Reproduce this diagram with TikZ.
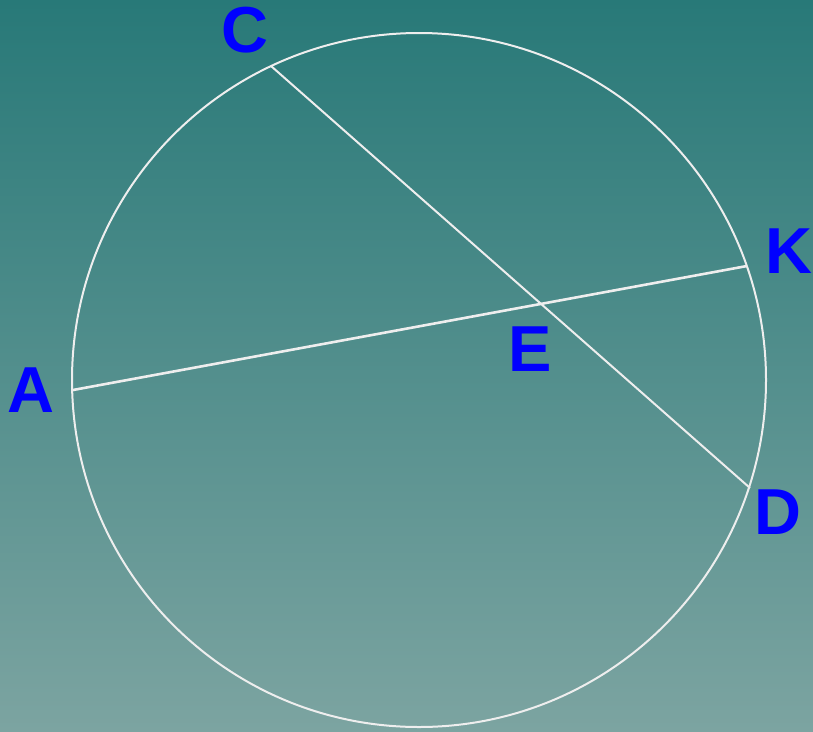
\documentclass[tikz,border=0pt]{standalone}
\usepackage{fontspec}
\setmainfont{Liberation Sans}
\definecolor{bgtop}{RGB}{40,121,120}
\definecolor{bgbot}{RGB}{124,164,161}
\definecolor{lbl}{RGB}{0,0,255}
\definecolor{ln}{RGB}{238,238,238}
\begin{document}
\begin{tikzpicture}[x=1pt,y=-1pt,
  chord/.style={draw=ln,line width=2pt},
  lab/.style={text=lbl,font=\fontsize{65}{65}\selectfont\bfseries,inner sep=0pt,anchor=base}]
\shade[top color=bgtop,bottom color=bgbot] (0,0) rectangle (813,731);
\useasboundingbox (0,0) rectangle (813,731);
\coordinate (O) at (419,380);
\coordinate (A) at (73,390);
\coordinate (C) at (271,66);
\coordinate (K) at (747,266);
\coordinate (D) at (750,488);
\draw[chord] (O) circle[radius=347];
\draw[chord,line width=2.6pt] (A) -- (K);
\draw[chord] (C) -- (D);
\node[lab] (lC) at (245,52) {C};
\node[lab] (lA) at (31,412) {A};
\node[lab] (lE) at (530,371) {E};
\node[lab] (lK) at (789,273) {K};
\node[lab] (lD) at (778,534) {D};
\end{tikzpicture}
\end{document}
